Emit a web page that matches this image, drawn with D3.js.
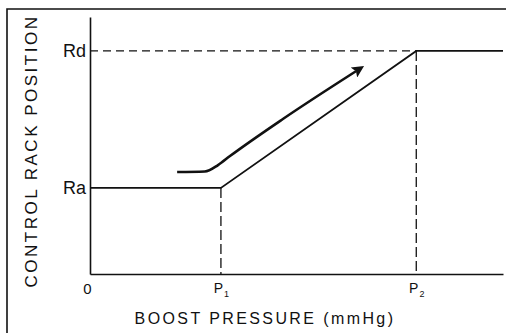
<!DOCTYPE html>
<html>
<head>
<meta charset="utf-8">
<script src="https://cdn.jsdelivr.net/npm/d3@7"></script>
<style>
  body { margin: 0; background: #fff; }
  text { font-family: "Liberation Sans", Arial, sans-serif; fill: #111; }
</style>
</head>
<body>
<div id="chart"></div>
<script>
// x positions on the boost pressure axis (relative units, 0..100)
var xTicks = [0, 31.7, 79];
var xTickLabels = ["0", "P|1", "P|2"];
// y positions on the rack axis (relative units, 0..100)
var yTicks = [33.5, 86.8];
var yTickLabels = ["Ra", "Rd"];

// control rack characteristic: flat at Ra, ramps to Rd, flat after
var rackX = [0, 31.7, 79, 100];
var rackY = [33.5, 33.5, 86.8, 86.8];

// direction arrow drawn above the ramp
var arrowX = [21.1, 27.8, 31.0, 33.9, 46.7, 64.4];
var arrowY = [39.7, 39.9, 42.4, 45.9, 60.3, 78.9];

render();

function render() {
  var W = 506, H = 333;
  var x0 = 90, x1 = 503, y0 = 274, y1 = 17;

  var svg = d3.select("#chart")
    .append("svg")
    .attr("width", W)
    .attr("height", H);

  // frame around the figure
  svg.append("path")
    .attr("d", "M7," + H + "V9H" + W)
    .attr("fill", "none")
    .attr("stroke", "#111")
    .attr("stroke-width", 1.6);

  var xScale = d3.scaleLinear().domain([0, 100]).range([x0, x1]);
  var yScale = d3.scaleLinear().domain([0, 100]).range([y0, y1]);

  var rack = rackX.map(function (d, i) { return { x: d, y: rackY[i] }; });
  var arrow = arrowX.map(function (d, i) { return { x: d, y: arrowY[i] }; });

  // dashed guides
  svg.append("line")
    .attr("x1", xScale(0)).attr("x2", xScale(xTicks[2]))
    .attr("y1", yScale(yTicks[1])).attr("y2", yScale(yTicks[1]))
    .attr("stroke", "#111").attr("stroke-width", 1.4)
    .attr("stroke-dasharray", "8,5");
  [1, 2].forEach(function (k) {
    svg.append("line")
      .attr("x1", xScale(xTicks[k])).attr("x2", xScale(xTicks[k]))
      .attr("y1", yScale(k == 1 ? yTicks[0] : yTicks[1])).attr("y2", yScale(0))
      .attr("stroke", "#111").attr("stroke-width", 1.3)
      .attr("stroke-dasharray", "10,4");
  });

  var line = d3.line()
    .x(function (d) { return xScale(d.x); })
    .y(function (d) { return yScale(d.y); });

  svg.append("path")
    .datum(rack)
    .attr("fill", "none")
    .attr("stroke", "#111")
    .attr("stroke-width", 1.8)
    .attr("d", line);

  svg.append("defs").append("marker")
    .attr("id", "head")
    .attr("viewBox", "0 0 10 10")
    .attr("refX", 2).attr("refY", 5)
    .attr("markerUnits", "userSpaceOnUse")
    .attr("markerWidth", 21).attr("markerHeight", 12)
    .attr("orient", "auto")
    .append("path")
    .attr("d", "M0,0L10,5L0,10L2,5Z")
    .attr("fill", "#111");

  svg.append("path")
    .datum(arrow)
    .attr("fill", "none")
    .attr("stroke", "#111")
    .attr("stroke-width", 2.6)
    .attr("marker-end", "url(#head)")
    .attr("d", line.curve(d3.curveMonotoneX));

  // axes
  var xAxis = svg.append("g")
    .attr("transform", "translate(0," + y0 + ")")
    .call(d3.axisBottom(xScale).tickValues(xTicks).tickSize(0).tickSizeOuter(0).tickPadding(8)
      .tickFormat(function (d, i) { return ""; }));
  xAxis.selectAll(".tick text").each(function (d, i) {
    var parts = xTickLabels[i].split("|");
    var t = d3.select(this).attr("font-size", 14).attr("font-family", null).attr("dy", "0.78em");
    if (i == 0) t.attr("dx", -3).attr("font-size", 15);
    t.append("tspan").text(parts[0]);
    if (parts[1]) t.append("tspan").attr("font-size", 9).attr("dy", 4).attr("dx", 1).text(parts[1]);
  });

  var yAxis = svg.append("g")
    .attr("transform", "translate(" + x0 + ",0)")
    .call(d3.axisLeft(yScale).tickValues(yTicks).tickSize(0).tickSizeOuter(0).tickPadding(4)
      .tickFormat(function (d, i) { return yTickLabels[i]; }));
  yAxis.selectAll(".tick text").attr("font-size", 18).attr("font-family", null);

  svg.selectAll(".domain").attr("stroke", "#111").attr("stroke-width", 1.6);

  // axis titles
  svg.append("text")
    .attr("x", 265).attr("y", 324)
    .attr("text-anchor", "middle")
    .attr("font-size", 16)
    .attr("letter-spacing", 2.4)
    .text("BOOST PRESSURE (mmHg)");

  svg.append("text")
    .attr("transform", "translate(37,151) rotate(-90)")
    .attr("text-anchor", "middle")
    .attr("font-size", 17)
    .attr("letter-spacing", 2.5)
    .text("CONTROL RACK POSITION");
}
</script>
</body>
</html>
